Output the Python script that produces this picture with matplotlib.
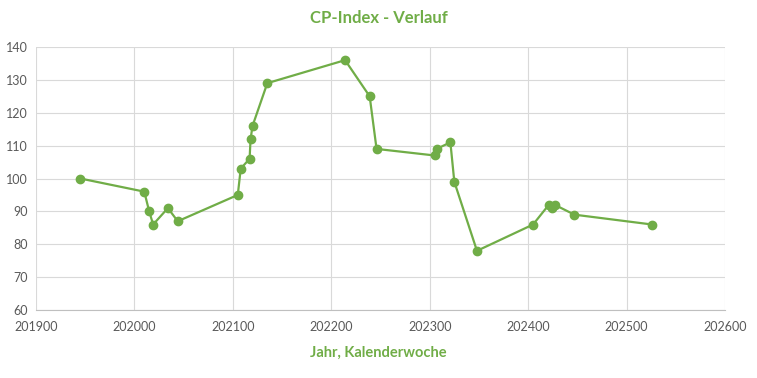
import matplotlib.pyplot as plt

# Jahr + Kalenderwoche, CP-Index
kw = [201945, 202010, 202015, 202019, 202034, 202044, 202105, 202108, 202117,
      202118, 202120, 202135, 202214, 202239, 202246, 202305, 202307, 202321,
      202325, 202348, 202405, 202421, 202424, 202427, 202447, 202526]
cp = [100, 96, 90, 86, 91, 87, 95, 103, 106, 112, 116, 129, 136, 125, 109,
      107, 109, 111, 99, 78, 86, 92, 91, 92, 89, 86]

green = '#70AD47'
grey_txt = '#595959'

plt.rcParams['font.family'] = ['Lato', 'DejaVu Sans']

fig = plt.figure(figsize=(7.57, 3.78), dpi=100)
ax = fig.add_axes([36 / 757, 1 - 310 / 378, (725 - 36) / 757, (310 - 47) / 378])

ax.plot(kw, cp, color=green, lw=1.6, marker='o', ms=6, zorder=3)

ax.set_xlim(201900, 202600)
ax.set_ylim(60, 140)
ax.set_xticks(range(201900, 202601, 100))
ax.set_yticks(range(60, 141, 10))
ax.grid(True, color='#D9D9D9', lw=0.8)
ax.set_axisbelow(True)
for s in ['top', 'right', 'left']:
    ax.spines[s].set_visible(False)
ax.spines['bottom'].set_color('#BFBFBF')
ax.tick_params(length=0, labelsize=9, colors=grey_txt)
ax.tick_params(axis='x', pad=8)
ax.tick_params(axis='y', pad=6)

fig.text(0.5, 1 - 18 / 378, 'CP-Index - Verlauf', ha='center', va='center',
         color=green, fontsize=12, fontweight='bold')
fig.text(0.5, 1 - 353 / 378, 'Jahr, Kalenderwoche', ha='center', va='center',
         color=green, fontsize=10.5, fontweight='bold')

fig.savefig('out.png', dpi=100)
